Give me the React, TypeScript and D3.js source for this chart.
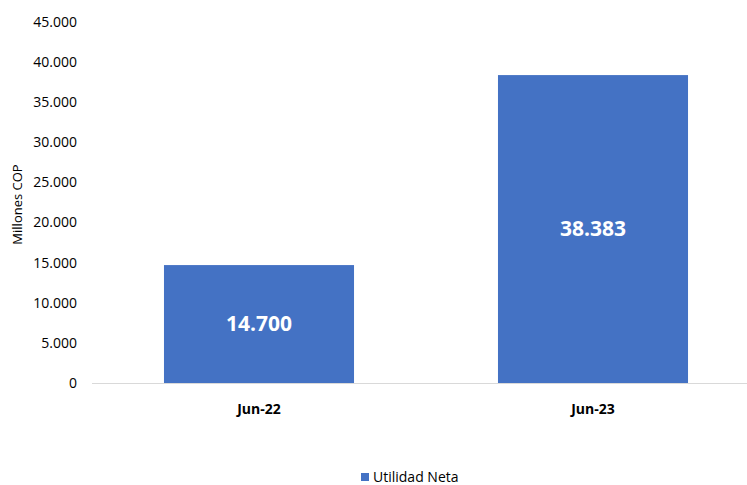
import React from "react";
import * as d3 from "d3";

const categories = ["Jun-22", "Jun-23"];
const values = [14700, 38383];
const yTicks = [0, 5000, 10000, 15000, 20000, 25000, 30000, 35000, 40000, 45000];
const seriesName = "Utilidad Neta";

const W = 747, H = 485;
const left = 92, right = 760, top = 22, bottom = 383;
const COLOR = "#4472C4";
const FONT = "Open Sans, Noto Sans, sans-serif";

const fmt = (v: number) => d3.format(",.0f")(v).replace(/,/g, ".");

export default function App() {
  const x = d3.scaleBand<string>().domain(categories).range([left, right]).paddingInner(0.431).paddingOuter(0.2155);
  const y = d3.scaleLinear().domain([0, 45000]).range([bottom, top]);
  return (
    <svg width={W} height={H} style={{ position: "absolute", left: 0, top: 0, background: "#fff" }} fontFamily={FONT}>
      {yTicks.map((t) => (
        <text key={t} x={77} y={y(t)} dy="0.35em" textAnchor="end" fontSize={14} fill="#000">{fmt(t)}</text>
      ))}
      <text transform={`translate(22,${(top + bottom) / 2 + 2}) rotate(-90)`} textAnchor="middle" fontSize={13} fill="#000">Millones COP</text>
      {categories.map((c, i) => (
        <g key={c}>
          <rect x={x(c)} y={y(values[i])} width={x.bandwidth()} height={bottom - y(values[i])} fill={COLOR} />
          <text x={x(c)! + x.bandwidth() / 2} y={(y(values[i]) + bottom) / 2} dy="0.35em" textAnchor="middle" fontSize={21} fontWeight="bold" fill="#fff">{fmt(values[i])}</text>
          <text x={x(c)! + x.bandwidth() / 2} y={409} dy="0.35em" textAnchor="middle" fontSize={14} fontWeight="bold" fill="#000">{c}</text>
        </g>
      ))}
      <line x1={left} x2={W} y1={bottom + 0.5} y2={bottom + 0.5} stroke="#d9d9d9" strokeWidth={1} />
      <rect x={361} y={473} width={8} height={8} fill={COLOR} />
      <text x={373} y={477} dy="0.35em" fontSize={14} fill="#000">{seriesName}</text>
    </svg>
  );
}
